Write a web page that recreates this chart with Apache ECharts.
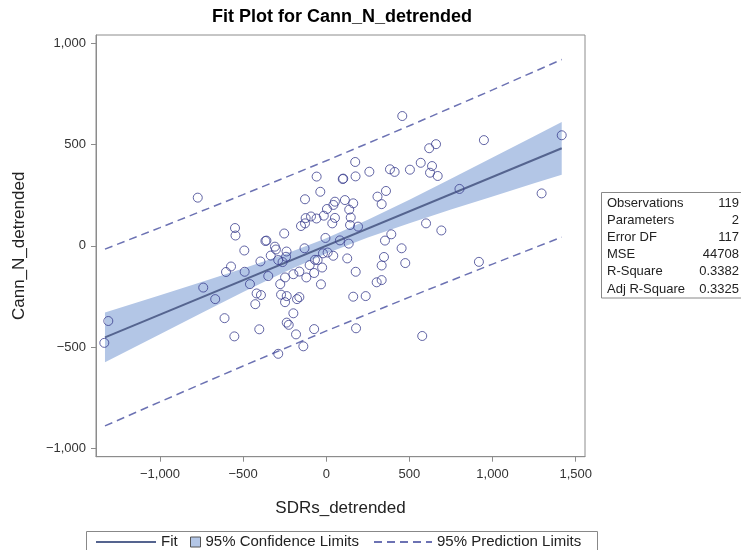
<!DOCTYPE html>
<html><head><meta charset="utf-8">
<script src="https://cdn.jsdelivr.net/npm/echarts@6/dist/echarts.min.js"></script>
<style>html,body{margin:0;padding:0;background:#fff}#c{width:741px;height:550px}</style>
</head><body><div id="c"></div>
<script>
// Observations (SDRs_detrended, Cann_N_detrended)
const obsX = [-1311,-1335,-773,-58,-36,-128,-549,-546,-124,-92,-59,-15,-152,-128,52,43,-253,-366,-360,-309,-303,-493,-239,-334,-396,-289,-263,-242,-131,-5,-20,8,42,-52,-68,-573,-603,-491,-349,-459,-740,-668,-248,-198,-162,-100,-73,-120,-25,-32,-277,-419,-393,-427,-272,-238,-248,-176,-162,-612,-198,-238,-226,-403,-553,-182,-73,-138,-289,457,619,660,174,568,636,624,670,503,383,411,259,176,99,102,359,308,333,112,162,138,147,52,36,143,191,801,600,692,391,353,82,135,453,126,347,333,475,177,303,333,162,237,179,577,948,1416,1295,918,4];
const obsY = [-371,-479,238,342,267,230,88,51,137,145,135,149,98,111,218,202,61,24,26,-4,-18,-23,-28,-48,-77,-70,-80,-54,-12,39,-37,-33,-49,-70,-69,-102,-129,-128,-149,-189,-206,-263,-156,-140,-127,-95,-134,-156,-107,-190,-189,-235,-243,-288,-241,-248,-278,-263,-253,-357,-333,-379,-390,-412,-447,-437,-411,-496,-533,641,482,502,414,410,394,361,345,376,378,365,366,343,330,332,271,243,206,226,210,179,140,138,111,103,95,281,111,76,57,26,27,11,-12,-62,-55,-97,-85,-128,-180,-169,-251,-248,-407,-445,522,546,259,-79,182];
// Fit line
const fitX = [-1331, 1416];
const fitY = [-452, 482];
// 95% confidence band
const bandX = [-1331,-1000,-750,-500,-250,0,250,500,750,1000,1250,1416];
const confLow = [-575,-436,-331,-228,-129,-38,41,112,179,244,309,351];
const confHigh = [-329,-244,-179,-112,-41,38,129,228,331,436,541,611];
// 95% prediction limits
const predX = [-1331,-1000,-500,0,500,1000,1416];
const predLow = [-889,-770,-593,-420,-253,-90,43];
const predHigh = [-16,90,253,420,593,770,920];
// Axis ticks
const xTicks = [-1000,-500,0,500,1000,1500];
const yTicks = [-1000,-500,0,500,1000];
// Fit statistics
const statLabels = ['Observations','Parameters','Error DF','MSE','R-Square','Adj R-Square'];
const statValues = ['119','2','117','44708','0.3382','0.3325'];

const FONT = '"Liberation Sans", Arial, sans-serif';
const fmt = v => { const s = Math.abs(v).toLocaleString('en-US'); return v < 0 ? '\u2212' + s : s; };

const chart = echarts.init(document.getElementById('c'), null, {renderer:'canvas'});
const frameColor = '#8c8c8c';

const statGraphics = [{
  type:'rect', shape:{x:601.5, y:192.5, width:145, height:105.5},
  style:{fill:'#fff', stroke:'#888', lineWidth:1}, silent:true
}];
statLabels.forEach((t,i)=>{
  statGraphics.push({type:'text', x:607, y:203.5 + i*17.1, style:{text:t, font:'13px ' + FONT, fill:'#222', align:'left', verticalAlign:'middle'}, silent:true});
  statGraphics.push({type:'text', x:739, y:203.5 + i*17.1, style:{text:statValues[i], font:'13px ' + FONT, fill:'#222', align:'right', verticalAlign:'middle'}, silent:true});
});

const legendText = {fontSize:15, color:'#222', fontFamily:FONT, lineHeight:18};
const noSymbol = {opacity:0, borderWidth:0};

chart.setOption({
  animation:false,
  backgroundColor:'#fff',
  graphic:[
    {type:'text', x:342, y:17, style:{text:'Fit Plot for Cann_N_detrended', font:'bold 18px ' + FONT, fill:'#000', align:'center', verticalAlign:'middle'}, silent:true},
    {type:'rect', shape:{x:86.5, y:531.5, width:511, height:30}, style:{fill:'none', stroke:'#888', lineWidth:1}, silent:true}
  ].concat(statGraphics),
  grid:{left:96, top:35, right:156, bottom:93.3, show:true, borderColor:frameColor, borderWidth:1, backgroundColor:'transparent'},
  xAxis:{
    type:'value', min:-1385, max:1556,
    name:'SDRs_detrended', nameLocation:'middle', nameGap:43,
    nameTextStyle:{fontSize:17, color:'#222', fontFamily:FONT},
    splitLine:{show:false},
    axisLine:{show:true, onZero:false, lineStyle:{color:frameColor}},
    axisTick:{show:true, customValues:xTicks, length:5, lineStyle:{color:frameColor}},
    axisLabel:{customValues:xTicks, formatter:fmt, fontSize:13, color:'#333', fontFamily:FONT, margin:11}
  },
  yAxis:{
    type:'value', min:-1041, max:1041,
    name:'Cann_N_detrended', nameLocation:'middle', nameGap:68,
    nameTextStyle:{fontSize:17, color:'#222', fontFamily:FONT},
    splitLine:{show:false},
    axisLine:{show:true, onZero:false, lineStyle:{color:frameColor}},
    axisTick:{show:true, customValues:yTicks, length:5, lineStyle:{color:frameColor}},
    axisLabel:{customValues:yTicks, formatter:fmt, fontSize:13, color:'#333', fontFamily:FONT, margin:10}
  },
  legend:[
    {data:[{name:'Fit', itemStyle:noSymbol}], left:95, top:533, itemWidth:60, itemHeight:14, padding:0, selectedMode:false, textStyle:legendText},
    {data:[{name:'95% Confidence Limits', icon:'rect', itemStyle:{color:'#b3c6e6', borderColor:'#555', borderWidth:1}}], left:190, top:533, itemWidth:10, itemHeight:10, padding:0, selectedMode:false, textStyle:legendText},
    {data:[{name:'95% Prediction Limits', itemStyle:noSymbol}], left:373, top:533, itemWidth:58, itemHeight:14, padding:0, selectedMode:false, textStyle:legendText}
  ],
  series:[
    {
      type:'custom', name:'95% Confidence Limits', z:1, silent:true,
      data: bandX.map((x,i)=>[x, confLow[i], confHigh[i]]),
      encode:{x:0, y:[1,2]},
      itemStyle:{color:'#b3c6e6'},
      renderItem:function(params, api){
        if (params.dataIndex !== 0) return null;
        const top = [], bot = [];
        for (let i = 0; i < bandX.length; i++) {
          top.push(api.coord([bandX[i], confHigh[i]]));
          bot.push(api.coord([bandX[i], confLow[i]]));
        }
        return {type:'polygon', shape:{points: top.concat(bot.reverse())}, style:{fill:'#b3c6e6'}};
      }
    },
    {
      type:'line', name:'95% Prediction Limits', z:2, symbol:'none', silent:true,
      data: predX.map((x,i)=>[x, predHigh[i]]),
      lineStyle:{color:'#6c72b3', width:1.5, type:[8,5]}, itemStyle:{color:'#6c72b3'}
    },
    {
      type:'line', name:'95% Prediction Limits', z:2, symbol:'none', silent:true,
      data: predX.map((x,i)=>[x, predLow[i]]),
      lineStyle:{color:'#6c72b3', width:1.5, type:[8,5]}, itemStyle:{color:'#6c72b3'}
    },
    {
      type:'line', name:'Fit', z:3, symbol:'none', silent:true,
      data: fitX.map((x,i)=>[x, fitY[i]]),
      lineStyle:{color:'#55648f', width:2}, itemStyle:{color:'#55648f'}
    },
    {
      type:'scatter', name:'Observations', z:4, silent:true,
      data: obsX.map((x,i)=>[x, obsY[i]]),
      symbol:'circle', symbolSize:9,
      itemStyle:{color:'rgba(255,255,255,0)', borderColor:'#3b3e8e', borderWidth:1}
    }
  ]
});
</script>
</body></html>
